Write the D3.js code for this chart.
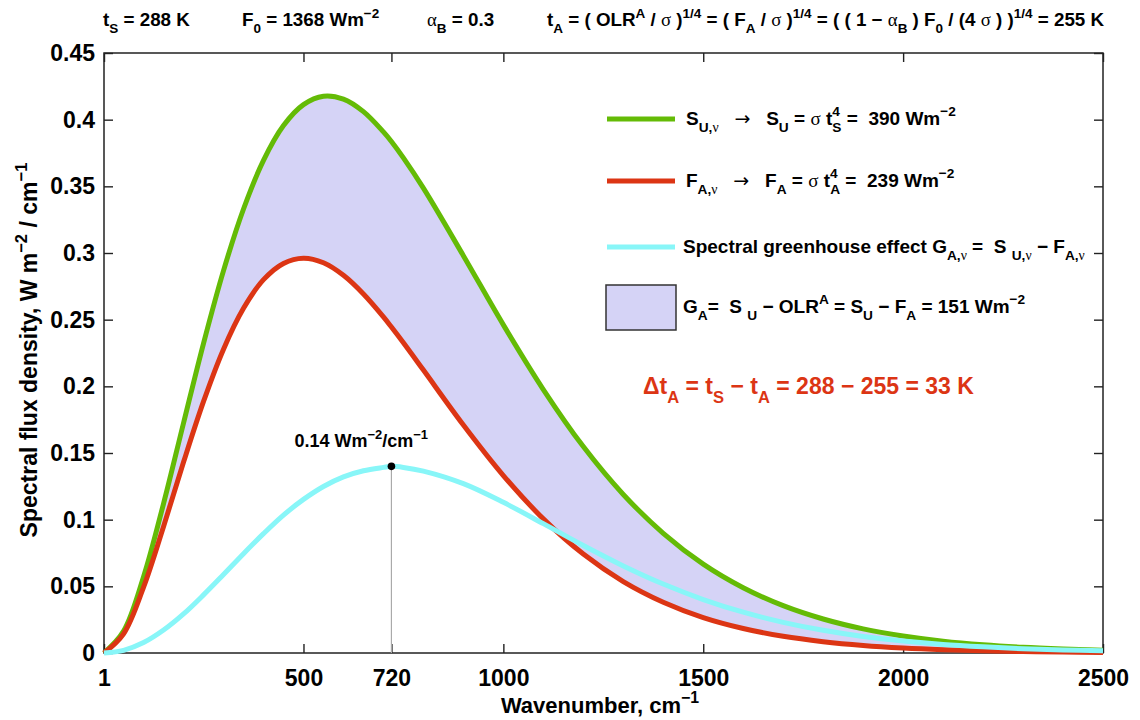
<!DOCTYPE html>
<html>
<head>
<meta charset="utf-8">
<script src="https://cdn.jsdelivr.net/npm/d3@7"></script>
<style>
  html, body { margin: 0; padding: 0; background: #fff; }
  svg { display: block; font-family: "Liberation Sans", Arial, sans-serif; font-weight: bold; }
  text { white-space: pre; }
</style>
</head>
<body>
<svg id="chart" width="1140" height="720"></svg>
<script>
// Wavenumber grid, cm^-1
const wavenumber = [1, 50, 100, 150, 200, 250, 300, 350, 400, 450, 500, 550, 600, 650, 700, 720, 750, 800,
  900, 1000, 1100, 1200, 1300, 1400, 1500, 1600, 1700, 1800, 1900, 2000, 2100, 2200, 2300, 2400, 2500];

// Surface upward spectral flux S_U,nu (W m^-2 / cm^-1)
const surfaceFlux = [0, 0.0164, 0.0572, 0.1121, 0.1725, 0.2323, 0.2868, 0.3330, 0.3695, 0.3956, 0.4113,
  0.4176, 0.4154, 0.4060, 0.3908, 0.3836, 0.3713, 0.3486, 0.2980, 0.2461, 0.1976, 0.1548, 0.1189, 0.0898,
  0.0667, 0.0490, 0.0355, 0.0255, 0.0181, 0.0128, 0.0089, 0.0062, 0.0043, 0.0030, 0.0020];

// Outgoing spectral flux F_A,nu at the effective temperature
const atmosFlux = [0, 0.0144, 0.0494, 0.0949, 0.1432, 0.1887, 0.2279, 0.2585, 0.2800, 0.2922, 0.2961,
  0.2927, 0.2833, 0.2693, 0.2521, 0.2445, 0.2327, 0.2122, 0.1710, 0.1331, 0.1006, 0.0742, 0.0536, 0.0381,
  0.0266, 0.0184, 0.0125, 0.0085, 0.0057, 0.0038, 0.0025, 0.0016, 0.0011, 0.0007, 0.0004];

// Spectral greenhouse effect G_A,nu
const greenhouseFlux = [0, 0.0020, 0.0078, 0.0172, 0.0293, 0.0436, 0.0589, 0.0745, 0.0895, 0.1034, 0.1152,
  0.1249, 0.1321, 0.1367, 0.1392, 0.1400, 0.1392, 0.1364, 0.1270, 0.1130, 0.0970, 0.0806, 0.0653, 0.0517,
  0.0401, 0.0306, 0.0230, 0.0170, 0.0124, 0.0090, 0.0064, 0.0046, 0.0032, 0.0023, 0.0016];

const xTicks = [1, 500, 720, 1000, 1500, 2000, 2500];
const yTicks = [0, 0.05, 0.1, 0.15, 0.2, 0.25, 0.3, 0.35, 0.4, 0.45];
const yTickLabels = ["0", "0.05", "0.1", "0.15", "0.2", "0.25", "0.3", "0.35", "0.4", "0.45"];

const peakNu = 720;
const peakValue = 0.14;

const colors = { surface: "#64bb06", atmos: "#dc3514", greenhouse: "#88f6f8", fill: "#d5d3f6", frame: "#222" };

const svg = d3.select("#chart");
const plot = { left: 104, right: 1103, top: 53, bottom: 653 };

const x = d3.scaleLinear().domain([1, 2500]).range([plot.left, plot.right]);
const y = d3.scaleLinear().domain([0, 0.45]).range([plot.bottom, plot.top]);

const rows = wavenumber.map((nu, i) => ({ nu, s: surfaceFlux[i], a: atmosFlux[i], g: greenhouseFlux[i] }));

// Text with sub/superscripts built from [string, kind, options] parts
function rich(parent, px, py, size, parts, opts = {}) {
  const t = parent.append("text").attr("x", px).attr("y", py).style("font-size", size + "px");
  if (opts.fill) t.attr("fill", opts.fill);
  if (opts.anchor) t.attr("text-anchor", opts.anchor);
  if (opts.transform) t.attr("transform", opts.transform);
  let shift = 0;
  for (const p of parts) {
    const [str, kind = "n", extra = {}] = p;
    const target = kind === "sub" ? size * 0.38 : kind === "sup" ? -size * 0.45 : 0;
    const ts = t.append("tspan").attr("dy", target - shift).text(str)
      .style("font-size", (kind === "n" ? size : size * 0.72) + "px");
    if (extra.dx) ts.attr("dx", extra.dx);
    if (extra.sym) ts.style("font-family", '"Liberation Serif", "DejaVu Serif", serif').style("font-weight", "normal");
    if (extra.arrow) ts.style("font-family", '"DejaVu Sans", sans-serif').style("font-weight", "normal");
    shift = target;
  }
  return t;
}
const S = { sym: true };
const ARROW = { arrow: true };

// Plot frame
svg.append("rect")
  .attr("x", plot.left).attr("y", plot.top)
  .attr("width", plot.right - plot.left).attr("height", plot.bottom - plot.top)
  .attr("fill", "none").attr("stroke", colors.frame).attr("stroke-width", 1.5);

// Axes with inward ticks
const tickLen = 9;
const gx = svg.append("g").attr("transform", `translate(0,${plot.bottom})`)
  .call(d3.axisBottom(x).tickValues(xTicks).tickSizeInner(-tickLen).tickSizeOuter(0).tickPadding(17).tickFormat(d3.format("d")));
const gxTop = svg.append("g").attr("transform", `translate(0,${plot.top})`)
  .call(d3.axisTop(x).tickValues(xTicks).tickSizeInner(-tickLen).tickSizeOuter(0).tickFormat(""));
const gy = svg.append("g").attr("transform", `translate(${plot.left},0)`)
  .call(d3.axisLeft(y).tickValues(yTicks).tickSizeInner(-tickLen).tickSizeOuter(0).tickPadding(9)
    .tickFormat((d, i) => yTickLabels[i]));
const gyRight = svg.append("g").attr("transform", `translate(${plot.right},0)`)
  .call(d3.axisRight(y).tickValues(yTicks).tickSizeInner(-tickLen).tickSizeOuter(0).tickFormat(""));

[gx, gxTop, gy, gyRight].forEach(g => {
  g.select(".domain").remove();
  g.selectAll(".tick line").attr("stroke", colors.frame).attr("stroke-width", 1.4);
  g.selectAll("text").attr("fill", "#000").style("font-size", "23px")
    .style("font-family", '"Liberation Sans", Arial, sans-serif').style("font-weight", "bold");
});

const curve = d3.curveCatmullRom.alpha(0.5);

// Shaded band between the two spectra
svg.append("path").datum(rows)
  .attr("fill", colors.fill)
  .attr("d", d3.area().x(d => x(d.nu)).y0(d => y(d.a)).y1(d => y(d.s)).curve(curve));

const line = key => d3.line().x(d => x(d.nu)).y(d => y(d[key])).curve(curve);

svg.append("path").datum(rows).attr("fill", "none").attr("stroke", colors.surface)
  .attr("stroke-width", 5).attr("stroke-linejoin", "round").attr("d", line("s"));
svg.append("path").datum(rows).attr("fill", "none").attr("stroke", colors.atmos)
  .attr("stroke-width", 5).attr("stroke-linejoin", "round").attr("d", line("a"));

// Drop line from the greenhouse peak
svg.append("line")
  .attr("x1", x(peakNu)).attr("x2", x(peakNu))
  .attr("y1", y(peakValue)).attr("y2", y(0))
  .attr("stroke", "#aaa").attr("stroke-width", 1.2);

svg.append("path").datum(rows).attr("fill", "none").attr("stroke", colors.greenhouse)
  .attr("stroke-width", 5).attr("stroke-linejoin", "round").attr("d", line("g"));

svg.append("circle").attr("cx", x(peakNu)).attr("cy", y(peakValue)).attr("r", 3.8).attr("fill", "#000");

rich(svg, x(peakNu) - 97, y(peakValue) - 19, 18,
  [["0.14 Wm"], ["−2", "sup"], ["/cm"], ["−1", "sup"]]);

// Header line
const hy = 26, hs = 18.8;
rich(svg, 103, hy, hs, [["t"], ["S", "sub"], [" = 288 K"]]);
rich(svg, 242, hy, hs, [["F"], ["0", "sub"], [" = 1368 Wm"], ["−2", "sup"]]);
rich(svg, 427, hy, hs, [["α", "n", S], ["B", "sub"], [" = 0.3"]]);
rich(svg, 547, hy, hs, [["t"], ["A", "sub"], [" = ( OLR"], ["A", "sup"], [" / "], ["σ", "n", S], [" )"], ["1/4", "sup"],
  [" = ( F"], ["A", "sub"], [" / "], ["σ", "n", S], [" )"], ["1/4", "sup"],
  [" = ( ( 1 − "], ["α", "n", S], ["B", "sub"], [" ) F"], ["0", "sub"], [" / (4 "], ["σ", "n", S], [" ) )"], ["1/4", "sup"],
  [" = 255 K"]]);

// Legend
const ls = 19;
const legendLine = (yy, color) => svg.append("line").attr("x1", 607).attr("x2", 675)
  .attr("y1", yy).attr("y2", yy).attr("stroke", color).attr("stroke-width", 5);

legendLine(119, colors.surface);
rich(svg, 686, 125, ls, [["S"], ["U,", "sub"], ["ν", "sub", S], ["   "], ["→", "n", ARROW], ["   S"], ["U", "sub"], [" = "],
  ["σ", "n", S], [" t"], ["4", "sup"], ["S", "sub", { dx: -7.5 }], [" =  390 Wm"], ["−2", "sup"]]);

legendLine(181, colors.atmos);
rich(svg, 686, 187, ls, [["F"], ["A,", "sub"], ["ν", "sub", S], ["   "], ["→", "n", ARROW], ["   F"], ["A", "sub"], [" = "],
  ["σ", "n", S], [" t"], ["4", "sup"], ["A", "sub", { dx: -7.5 }], [" =  239 Wm"], ["−2", "sup"]]);

legendLine(247, colors.greenhouse);
rich(svg, 683, 253, ls, [["Spectral greenhouse effect G"], ["A,", "sub"], ["ν", "sub", S], [" =  S "], ["U,", "sub"],
  ["ν", "sub", S], [" − F"], ["A,", "sub"], ["ν", "sub", S]]);

svg.append("rect").attr("x", 606).attr("y", 285).attr("width", 70).attr("height", 45)
  .attr("fill", colors.fill).attr("stroke", "#333").attr("stroke-width", 1.5);
rich(svg, 683, 313, ls, [["G"], ["A", "sub"], ["=  S "], ["U", "sub"], [" − OLR"], ["A", "sup"], [" = S"], ["U", "sub"],
  [" − F"], ["A", "sub"], [" = 151 Wm"], ["−2", "sup"]]);

rich(svg, 643, 394, 23, [["Δt"], ["A", "sub"], [" = t"], ["S", "sub"], [" − t"], ["A", "sub"], [" = 288 − 255 = 33 K"]],
  { fill: colors.atmos });

// Axis titles
rich(svg, 600, 713, 22, [["Wavenumber, cm"], ["−1", "sup"]], { anchor: "middle" });
rich(svg, 0, 0, 23, [["Spectral flux density, W m"], ["−2", "sup"], [" / cm"], ["−1", "sup"]],
  { anchor: "middle", transform: "translate(37,350) rotate(-90)" });
</script>
</body>
</html>
